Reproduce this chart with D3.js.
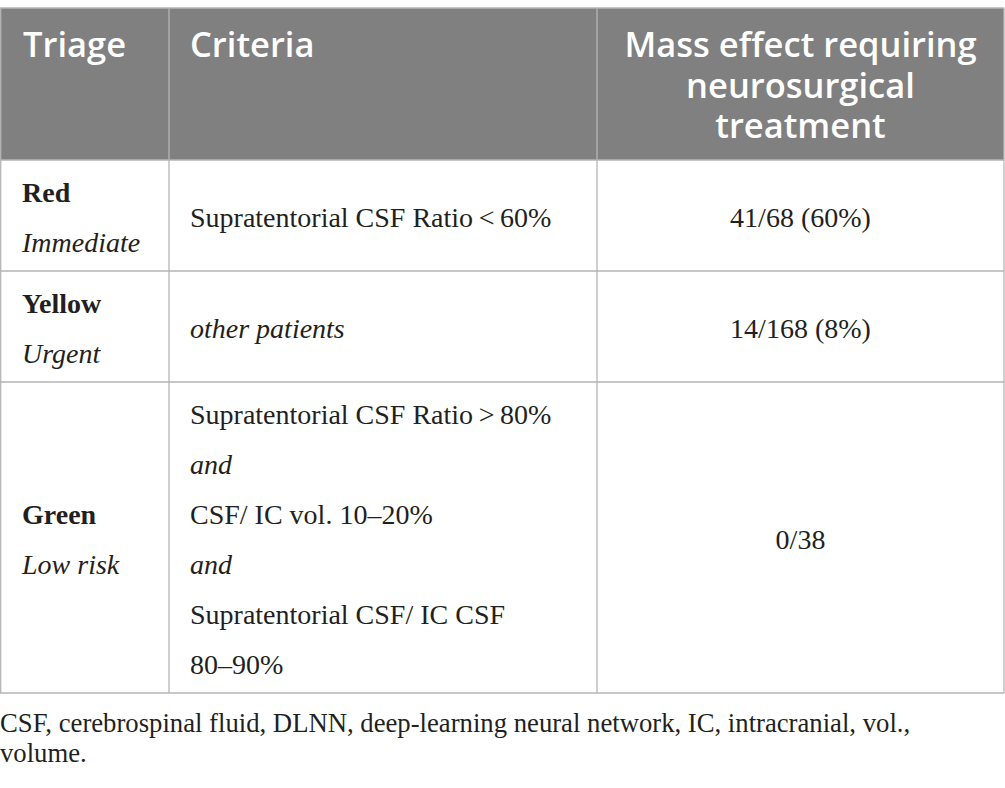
<!DOCTYPE html>
<html>
<head>
<meta charset="utf-8">
<script src="https://cdn.jsdelivr.net/npm/d3@7"></script>
<style>
  html, body { margin: 0; padding: 0; background: #fff; }
  svg { display: block; }
</style>
</head>
<body>
<svg id="table" width="1005" height="788"></svg>
<script>
  // table content
  var headers = [['Triage'], ['Criteria'], ['Mass effect requiring', 'neurosurgical', 'treatment']];
  var triage = ['Red', 'Yellow', 'Green'];
  var urgency = ['Immediate', 'Urgent', 'Low risk'];
  var criteria = [
    [{ t: 'Supratentorial CSF Ratio\u2009<\u200960%' }],
    [{ t: 'other patients', i: true }],
    [
      { t: 'Supratentorial CSF Ratio\u2009>\u200980%' },
      { t: 'and', i: true },
      { t: 'CSF/ IC vol. 10\u201320%' },
      { t: 'and', i: true },
      { t: 'Supratentorial CSF/ IC CSF' },
      { t: '80\u201390%' }
    ]
  ];
  var outcome = ['41/68 (60%)', '14/168 (8%)', '0/38'];
  var footnote = [
    'CSF, cerebrospinal fluid, DLNN, deep-learning neural network, IC, intracranial, vol.,',
    'volume.'
  ];

  var svg = d3.select('#table');
  var lineH = 50;
  var headTop = 8, headBottom = 160;
  var colX = [0, 169, 597, 1004];
  var borderCol = '#b5b5b5';
  var serif = '"Liberation Serif", "Times New Roman", serif';
  var sans = '"Open Sans", "Noto Sans", sans-serif';

  // row heights from line counts
  var rows = triage.map(function(d, i) {
    var n = Math.max(2, criteria[i].length);
    return { n: n, h: n * lineH + 11 };
  });
  var y = headBottom;
  rows.forEach(function(r) { r.y0 = y; y += r.h; r.y1 = y; r.cy = (r.y0 + r.y1) / 2; });
  var tableBottom = y;

  // header band
  svg.append('rect')
    .attr('x', colX[0]).attr('y', headTop)
    .attr('width', colX[3] - colX[0]).attr('height', headBottom - headTop)
    .attr('fill', '#7f807f');

  var head = svg.append('g').attr('class', 'head');
  headers.forEach(function(lines, c) {
    var centered = c === 2;
    var hx = centered ? (colX[2] + colX[3]) / 2 : colX[c] + (c === 0 ? 23 : 21);
    head.append('text')
      .attr('x', hx)
      .attr('text-anchor', centered ? 'middle' : 'start')
      .attr('font-family', sans)
      .attr('font-weight', 600)
      .attr('font-size', 34.5)
      .attr('fill', '#fff')
      .selectAll('tspan')
      .data(lines)
      .enter()
      .append('tspan')
      .attr('x', hx)
      .attr('y', function(d, k) { return 57 + k * 40.5; })
      .text(function(d) { return d; });
  });

  // grid lines
  var grid = svg.append('g').attr('stroke', borderCol).attr('stroke-width', 1.3);
  [headTop].concat(rows.map(function(r) { return r.y0; }), [tableBottom]).forEach(function(yy) {
    grid.append('line').attr('x1', colX[0]).attr('x2', colX[3]).attr('y1', yy).attr('y2', yy);
  });
  colX.forEach(function(xx, k) {
    grid.append('line')
      .attr('x1', k === 0 ? 0.7 : xx).attr('x2', k === 0 ? 0.7 : xx)
      .attr('y1', headTop).attr('y2', tableBottom);
  });

  // body rows
  var body = svg.append('g')
    .attr('font-family', serif)
    .attr('font-size', 28)
    .attr('fill', '#231f20');

  function baseline(r, k, n) {
    return r.cy + 11 + (k - (n - 1) / 2) * lineH;
  }

  rows.forEach(function(r, i) {
    body.append('text')
      .attr('x', 22).attr('y', baseline(r, 0, 2))
      .attr('font-weight', 'bold')
      .text(triage[i]);
    body.append('text')
      .attr('x', 22).attr('y', baseline(r, 1, 2))
      .attr('font-style', 'italic')
      .text(urgency[i]);

    var n = criteria[i].length;
    body.selectAll(null)
      .data(criteria[i])
      .enter()
      .append('text')
      .attr('x', colX[1] + 21)
      .attr('y', function(d, k) { return baseline(r, k, n); })
      .attr('font-style', function(d) { return d.i ? 'italic' : 'normal'; })
      .text(function(d) { return d.t; });

    body.append('text')
      .attr('x', (colX[2] + colX[3]) / 2)
      .attr('y', baseline(r, 0, 1))
      .attr('text-anchor', 'middle')
      .text(outcome[i]);
  });

  // footnote
  svg.append('g')
    .attr('font-family', serif)
    .attr('font-size', 26.7)
    .attr('fill', '#231f20')
    .selectAll('text')
    .data(footnote)
    .enter()
    .append('text')
    .attr('x', 0)
    .attr('y', function(d, k) { return 732 + k * 30; })
    .text(function(d) { return d; });
</script>
</body>
</html>
